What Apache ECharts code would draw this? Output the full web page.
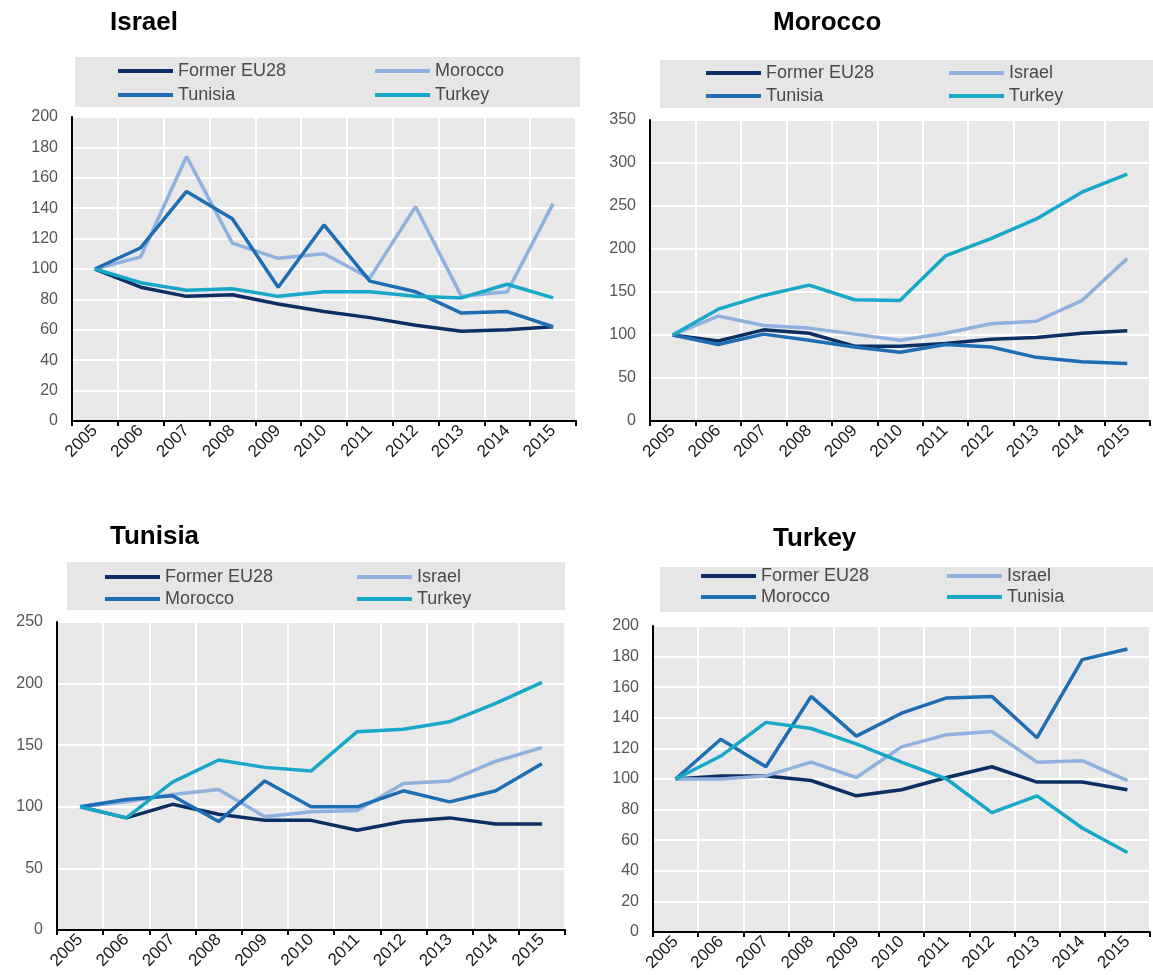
<!DOCTYPE html>
<html>
<head>
<meta charset="utf-8">
<script src="https://cdn.jsdelivr.net/npm/echarts@6/dist/echarts.min.js"></script>
<style>html,body{margin:0;padding:0;background:#fff;}#c{width:1153px;height:975px;}</style>
</head>
<body>
<div id="c"></div>
<script>
const years = ['2005','2006','2007','2008','2009','2010','2011','2012','2013','2014','2015'];

// Panel: Israel
const israelTitle = 'Israel';
const israelNames = ['Former EU28','Morocco','Tunisia','Turkey'];
const israelEU28   = [100, 88, 82, 83, 77, 72, 68, 63, 59, 60, 62];
const israelMorocco= [100,108,174,117,107,110, 94,141, 82, 85,143];
const israelTunisia= [100,114,151,133, 88,129, 92, 85, 71, 72, 62];
const israelTurkey = [100, 91, 86, 87, 82, 85, 85, 82, 81, 90, 81];

// Panel: Morocco
const moroccoTitle = 'Morocco';
const moroccoNames = ['Former EU28','Israel','Tunisia','Turkey'];
const moroccoEU28   = [100, 93,106,102, 87, 87, 90, 95, 97,102,105];
const moroccoIsrael = [100,122,111,108,101, 94,102,113,116,140,189];
const moroccoTunisia= [100, 89,101, 94, 86, 80, 89, 86, 74, 69, 67];
const moroccoTurkey = [100,130,146,158,141,140,192,212,235,266,287];

// Panel: Tunisia
const tunisiaTitle = 'Tunisia';
const tunisiaNames = ['Former EU28','Israel','Morocco','Turkey'];
const tunisiaEU28   = [100, 91,102, 94, 89, 89, 81, 88, 91, 86, 86];
const tunisiaIsrael = [100,104,110,114, 92, 96, 97,119,121,137,148];
const tunisiaMorocco= [100,106,109, 88,121,100,100,113,104,113,135];
const tunisiaTurkey = [100, 91,120,138,132,129,161,163,169,184,201];

// Panel: Turkey
const turkeyTitle = 'Turkey';
const turkeyNames = ['Former EU28','Israel','Morocco','Tunisia'];
const turkeyEU28   = [100,102,102, 99, 89, 93,101,108, 98, 98, 93];
const turkeyIsrael = [100,100,102,111,101,121,129,131,111,112, 99];
const turkeyMorocco= [100,126,108,154,128,143,153,154,127,178,185];
const turkeyTunisia= [100,115,137,133,123,111,100, 78, 89, 68, 52];

// Y axis ranges
const yMax = [200, 350, 250, 200];
const yStep = [20, 50, 50, 20];

const colors = ['#0c2f63', '#8eb1dd', '#1f6db3', '#17a8c8'];
const FONT = '"Liberation Sans", Arial, Helvetica, sans-serif';

const panels = [
  {title: israelTitle, names: israelNames, data: [israelEU28, israelMorocco, israelTunisia, israelTurkey],
   grid: {left: 72, top: 117, width: 504, height: 304}, titlePos: [110, 10],
   box: [75, 57, 505, 50], leg: {x1: 118, x2: 375, y1: 62, y2: 86}},
  {title: moroccoTitle, names: moroccoNames, data: [moroccoEU28, moroccoIsrael, moroccoTunisia, moroccoTurkey],
   grid: {left: 650, top: 120, width: 500, height: 301}, titlePos: [773, 10],
   box: [660, 60, 493, 48], leg: {x1: 706, x2: 949, y1: 64, y2: 87}},
  {title: tunisiaTitle, names: tunisiaNames, data: [tunisiaEU28, tunisiaIsrael, tunisiaMorocco, tunisiaTurkey],
   grid: {left: 57, top: 622, width: 508, height: 308}, titlePos: [110, 524],
   box: [67, 562, 498, 48], leg: {x1: 105, x2: 357, y1: 568, y2: 590}},
  {title: turkeyTitle, names: turkeyNames, data: [turkeyEU28, turkeyIsrael, turkeyMorocco, turkeyTunisia],
   grid: {left: 653, top: 626, width: 497, height: 306}, titlePos: [773, 526],
   box: [660, 567, 493, 45], leg: {x1: 701, x2: 947, y1: 567, y2: 588}}
];

const option = {
  animation: false,
  backgroundColor: '#ffffff',
  textStyle: {fontFamily: FONT},
  title: [], grid: [], xAxis: [], yAxis: [], series: [], legend: [], graphic: []
};

panels.forEach((p, i) => {
  option.title.push({
    text: p.title, left: p.titlePos[0], top: p.titlePos[1], padding: 0,
    textStyle: {fontFamily: FONT, fontSize: 26, fontWeight: 'bold', color: '#000'}
  });
  option.graphic.push({
    type: 'rect', left: p.box[0], top: p.box[1], z: -1,
    shape: {width: p.box[2], height: p.box[3]},
    style: {fill: '#e6e6e6'}
  });
  option.grid.push(Object.assign({show: true, backgroundColor: '#e8e8e8', borderWidth: 0, containLabel: false}, p.grid));
  option.xAxis.push({
    type: 'category', gridIndex: i, data: years, boundaryGap: true,
    axisLine: {show: true, lineStyle: {color: '#000', width: 2}},
    axisTick: {show: true, length: 5, interval: 0, lineStyle: {color: '#000', width: 2}},
    axisLabel: {rotate: 45, fontSize: 17, color: '#1a1a1a', fontFamily: FONT, margin: 7, interval: 0},
    splitLine: {show: true, interval: 0, lineStyle: {color: '#ffffff', width: 2}}
  });
  option.yAxis.push({
    type: 'value', gridIndex: i, min: 0, max: yMax[i], interval: yStep[i],
    axisLine: {show: true, lineStyle: {color: '#000', width: 2}},
    axisTick: {show: false},
    axisLabel: {fontSize: 16, color: '#555', fontFamily: FONT, margin: 14},
    splitLine: {show: true, lineStyle: {color: '#ffffff', width: 2}}
  });
  p.names.forEach((n, k) => {
    const sname = n + '|' + i;
    option.series.push({
      type: 'line', name: sname, xAxisIndex: i, yAxisIndex: i,
      data: p.data[k], symbol: 'none', smooth: false,
      itemStyle: {color: colors[k]},
      lineStyle: {color: colors[k], width: 3.5},
      z: 2 + k
    });
    const lx = (k % 2 === 0) ? p.leg.x1 : p.leg.x2;
    const ly = (k < 2) ? p.leg.y1 : p.leg.y2;
    option.legend.push({
      data: [{name: sname, icon: 'rect', itemStyle: {color: colors[k]}}],
      left: lx, top: ly, itemWidth: 55, itemHeight: 4, padding: 0,
      selectedMode: false,
      formatter: (nm) => nm.split('|')[0],
      textStyle: {fontSize: 18, color: '#4a4a4a', fontFamily: FONT}
    });
  });
});

const chart = echarts.init(document.getElementById('c'), null, {renderer: 'canvas'});
chart.setOption(option);
</script>
</body>
</html>
